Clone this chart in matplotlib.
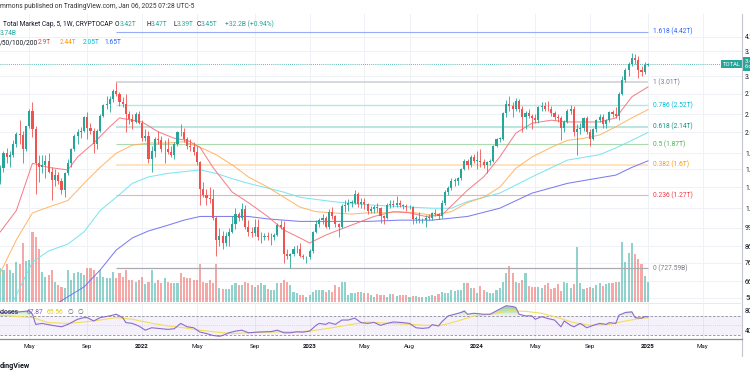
import numpy as np
import matplotlib
matplotlib.use("Agg")
import matplotlib.pyplot as plt
import matplotlib.dates as mdates
import matplotlib.transforms as mtrans
from matplotlib.ticker import NullLocator
from matplotlib.lines import Line2D

plt.rcParams['font.family'] = ['Roboto', 'DejaVu Sans']

# ---------------- data (Total crypto market cap, weekly, in T) ----------------
first_week = "2021-02-22"
first_open = 1.72
closes = [1.42,1.56,1.75,1.70,1.72,1.88,2.02,2.01,1.80,2.15,
          2.42,2.10,1.62,1.58,1.60,1.65,1.52,1.43,1.48,1.42,
          1.32,1.50,1.62,1.80,2.00,2.05,2.08,2.30,2.12,2.07,
          1.88,2.08,2.32,2.52,2.55,2.65,2.82,2.75,2.58,2.55,
          2.35,2.27,2.22,2.35,2.20,1.97,2.00,1.67,1.78,1.95,
          1.93,1.80,1.80,1.77,1.72,1.87,2.06,2.05,1.95,1.85,
          1.84,1.76,1.63,1.33,1.27,1.24,1.23,1.07,0.90,0.93,
          0.88,0.93,0.96,1.02,1.10,1.07,1.14,1.00,0.96,0.95,
          1.00,0.92,0.92,0.93,0.92,0.92,0.94,1.01,1.00,0.81,
          0.80,0.81,0.84,0.84,0.80,0.79,0.79,0.83,0.96,1.02,
          1.05,1.07,1.00,1.12,1.08,1.02,1.00,1.17,1.18,1.20,
          1.20,1.28,1.19,1.21,1.19,1.13,1.14,1.16,1.15,1.08,
          1.07,1.18,1.19,1.18,1.20,1.18,1.17,1.16,1.16,1.06,
          1.06,1.05,1.05,1.07,1.07,1.11,1.10,1.08,1.20,1.30,
          1.34,1.42,1.42,1.45,1.55,1.65,1.60,1.70,1.65,1.65,
          1.63,1.60,1.63,1.65,1.85,1.95,1.95,2.38,2.55,2.50,
          2.45,2.60,2.45,2.30,2.38,2.33,2.28,2.26,2.48,2.50,
          2.46,2.45,2.38,2.30,2.28,2.12,2.22,2.42,2.45,2.05,
          2.10,2.12,2.28,2.05,1.95,2.10,2.25,2.30,2.18,2.25,
          2.40,2.35,2.32,2.75,3.05,3.30,3.45,3.62,3.55,3.30,
          3.25,3.42,3.45]
highs = [1.76,1.60,1.78,1.82,1.78,1.93,2.05,2.26,2.07,2.16,
         2.45,2.58,2.15,1.72,1.72,1.72,1.75,1.58,1.55,1.52,
         1.45,1.52,1.68,1.82,2.03,2.10,2.13,2.33,2.40,2.20,
         2.12,2.10,2.35,2.55,2.70,2.70,2.85,3.01,2.80,2.68,
         2.75,2.42,2.35,2.40,2.42,2.25,2.10,2.08,1.85,1.98,
         2.08,2.00,1.93,1.97,1.85,1.90,2.08,2.18,2.12,1.98,
         1.95,1.90,1.85,1.65,1.40,1.33,1.35,1.33,1.08,0.99,
         0.97,0.96,0.99,1.08,1.15,1.12,1.20,1.18,1.05,1.00,
         1.06,1.06,0.96,0.95,0.96,0.95,0.95,1.03,1.05,1.04,
         0.84,0.82,0.86,0.87,0.88,0.81,0.80,0.84,0.97,1.05,
         1.07,1.10,1.08,1.14,1.16,1.09,1.03,1.19,1.22,1.23,
         1.22,1.32,1.30,1.24,1.24,1.20,1.17,1.18,1.20,1.16,
         1.09,1.20,1.22,1.22,1.26,1.22,1.19,1.19,1.18,1.17,
         1.08,1.12,1.07,1.09,1.10,1.12,1.14,1.11,1.22,1.32,
         1.36,1.45,1.45,1.46,1.56,1.68,1.67,1.72,1.74,1.78,
         1.80,1.68,1.65,1.68,1.86,1.97,1.98,2.40,2.62,2.70,
         2.58,2.66,2.64,2.50,2.42,2.45,2.36,2.36,2.50,2.58,
         2.58,2.60,2.50,2.42,2.36,2.32,2.25,2.45,2.52,2.50,
         2.18,2.20,2.30,2.32,2.10,2.12,2.27,2.35,2.35,2.27,
         2.42,2.43,2.48,2.80,3.15,3.35,3.50,3.76,3.72,3.68,
         3.40,3.50,3.47]
lows = [1.33,1.38,1.52,1.62,1.58,1.70,1.84,1.88,1.62,1.78,
        2.12,1.98,1.28,1.40,1.50,1.45,1.50,1.22,1.36,1.38,
        1.28,1.25,1.48,1.58,1.78,1.88,1.97,2.05,1.95,2.03,
        1.75,1.80,2.05,2.30,2.45,2.40,2.58,2.70,2.50,2.48,
        2.05,2.18,2.10,2.20,2.18,1.92,1.92,1.62,1.52,1.70,
        1.87,1.76,1.62,1.74,1.70,1.68,1.85,2.00,1.90,1.80,
        1.78,1.72,1.60,1.18,1.25,1.18,1.20,1.05,0.80,0.86,
        0.84,0.86,0.86,0.95,0.98,1.04,1.05,0.98,0.93,0.92,
        0.93,0.90,0.88,0.90,0.90,0.87,0.90,0.93,0.98,0.76,
        0.78,0.728,0.80,0.82,0.79,0.78,0.76,0.78,0.82,0.95,
        1.00,1.02,0.99,0.98,1.06,1.00,0.92,0.99,1.12,1.13,
        1.16,1.19,1.16,1.15,1.14,1.10,1.11,1.11,1.12,1.03,
        1.02,1.06,1.15,1.16,1.16,1.16,1.14,1.13,1.14,1.02,
        1.03,1.03,1.03,1.00,1.05,1.05,1.08,1.06,1.07,1.18,
        1.27,1.32,1.36,1.37,1.43,1.54,1.55,1.58,1.62,1.55,
        1.58,1.56,1.50,1.60,1.63,1.84,1.90,1.94,2.30,2.42,
        2.30,2.42,2.40,2.05,2.10,2.28,2.10,2.20,2.20,2.42,
        2.42,2.42,2.32,2.25,2.22,1.93,2.05,2.20,2.35,2.00,
        1.72,2.03,2.08,2.03,1.85,1.93,2.05,2.22,2.12,2.12,
        2.22,2.30,2.28,2.25,2.72,3.00,3.15,3.40,3.45,3.10,
        3.15,3.20,3.39]
volumes = [5.6,6.3,6.0,7.2,6.0,5.4,7.5,7.2,11.0,7.7,
           7.9,13.1,12.2,10.0,5.7,4.7,5.0,6.0,3.8,3.2,
           2.9,2.6,6.0,4.1,5.4,5.7,5.4,5.0,6.3,6.3,
           6.0,4.7,6.0,4.7,4.4,4.4,5.7,4.4,5.4,4.7,
           6.0,4.1,4.1,3.8,4.1,4.7,3.4,3.8,6.0,3.5,
           4.1,3.5,4.4,3.8,3.5,3.5,3.5,5.4,4.7,4.4,
           4.4,4.1,4.1,7.2,3.8,3.5,4.1,3.5,7.2,2.6,
           2.4,2.4,2.4,3.2,3.5,3.2,3.2,3.8,3.5,3.2,
           2.9,3.2,3.5,3.2,2.4,2.2,2.2,3.5,3.5,4.2,
           3.8,3.2,1.9,1.6,1.3,1.3,1.0,1.3,1.9,2.2,
           2.2,2.2,1.9,2.2,1.9,3.2,2.8,3.8,3.8,1.3,
           1.6,1.6,1.9,1.9,1.6,1.6,1.3,1.0,1.5,1.3,
           1.3,1.0,1.5,1.5,1.1,1.3,1.4,1.3,1.0,1.1,
           1.1,1.0,1.0,1.0,1.1,1.4,1.1,1.5,1.9,1.6,
           1.7,2.2,2.1,2.2,2.2,3.6,3.5,2.7,2.7,1.6,
           3.0,2.2,1.9,1.7,1.7,2.2,2.6,3.7,5.5,6.7,
           5.5,3.8,3.5,4.1,5.5,3.0,2.9,2.9,2.9,2.7,
           3.2,3.5,2.4,2.7,3.4,2.1,3.8,3.6,2.7,3.4,
           10.3,3.5,2.4,2.6,2.9,2.7,3.2,3.5,3.0,3.4,
           3.6,3.5,3.8,3.8,11.3,7.4,9.2,11.0,9.0,8.0,
           7.2,4.9,3.74]

# moving averages (bar index, value in T)
ma20_idx = [1,6,11,16,22,25,30,35,38,42,45,50,55,59,63,67,73,78,84,89,94,97,102,106,112,117,123,128,133,138,146,151,156,161,166,172,177,182,187,192,197,202]
ma20_val = [0.96,1.13,1.62,1.57,1.54,1.70,1.89,2.14,2.29,2.25,2.22,2.06,1.96,1.93,1.83,1.57,1.30,1.20,1.08,0.974,0.917,0.882,0.937,0.974,1.03,1.08,1.12,1.11,1.08,1.09,1.32,1.46,1.70,2.04,2.20,2.25,2.22,2.22,2.22,2.29,2.69,2.90]
ma50_idx = [1,6,11,16,22,27,32,37,42,47,53,58,63,68,73,78,84,94,99,104,110,115,120,125,130,135,141,146,151,156,161,166,172,177,182,187,192,197,202]
ma50_val = [0.702,0.903,1.11,1.16,1.22,1.39,1.57,1.75,1.86,1.89,1.89,1.91,1.83,1.73,1.60,1.46,1.35,1.16,1.12,1.11,1.10,1.11,1.11,1.12,1.11,1.09,1.12,1.20,1.25,1.35,1.56,1.70,1.83,1.93,1.96,2.01,2.14,2.29,2.44]
ma100_idx = [1,5,11,16,22,27,32,37,42,47,53,58,63,68,73,78,84,89,94,104,115,125,135,141,146,156,166,177,187,192,197,202]
ma100_val = [0.52,0.565,0.763,0.83,0.875,0.96,1.13,1.25,1.39,1.46,1.50,1.52,1.54,1.50,1.44,1.39,1.34,1.30,1.25,1.21,1.18,1.165,1.15,1.15,1.21,1.29,1.46,1.66,1.73,1.82,1.93,2.05]
ma200_idx = [14,19,27,32,37,42,47,53,58,63,68,73,78,84,94,104,115,125,135,146,156,166,177,187,192,197,202]
ma200_val = [0.50,0.56,0.631,0.718,0.836,0.917,0.967,1.01,1.05,1.08,1.08,1.08,1.08,1.06,1.04,1.04,1.04,1.05,1.05,1.08,1.15,1.29,1.39,1.45,1.48,1.57,1.65]

# RSI (14) and its moving average
rsi_idx = [1,7,10,11,12,14,17,20,22,25,27,28,30,32,35,37,39,40,42,44,46,48,51,53,55,57,59,61,63,65,67,69,70,72,74,76,78,81,83,85,87,89,91,93,95,97,99,100,102,103,105,107,109,111,113,115,117,119,121,123,126,128,130,132,134,135,137,138,140,142,144,145,146,148,151,153,156,158,160,161,162,164,166,167,169,171,173,175,176,178,179,181,183,185,187,189,190,192,193,195,197,198,200,201,202]
rsi_val = [77,78,80,73,52,54,50,47,52,62.6,66,66,59,66,69.6,73,66,55.6,54,48.6,40,45,43,41.6,43,54,47,45,36,33,29,27.5,29,34.6,38,40,34.6,36,36.6,37,40,34.6,34.6,36.6,36,38,50,54,52,55.6,52,61,61,65,55.6,54,56,50,54,57,55.6,54,45,43.7,45,51.4,48.6,57,69.6,73,76.7,80,73,75,73,73,83.7,90.6,89,87,73,69.6,69.6,62.6,68,64,61,47,59,50,47,54,45,50,54,52,55.6,54,71,76.7,78,66,64.7,68,67.87]
rsi_ma_idx = [1,11,16,22,27,32,37,42,47,53,58,63,68,73,78,84,89,94,99,104,110,115,122,128,133,138,143,148,153,159,164,169,174,179,184,190,195,200,202]
rsi_ma_val = [71,66,55.6,54,57,61,66,62.6,55.6,48.6,45,40,36,33,34.6,36,36.6,36.6,40,45,52,57,54,52,50,50,59,69.6,73,80,79,75,66,55.6,50,52,59,64.7,65.56]

# Fibonacci retracement (anchored at the Nov-2021 high)
fib_anchor_bar = 37
fib_levels = ["1.618", "1", "0.786", "0.618", "0.5", "0.382", "0.236", "0"]
fib_values = [4.42, 3.01, 2.52, 2.14, 1.87, 1.60, 1.27, 0.72759]
fib_value_text = ["4.42T", "3.01T", "2.52T", "2.14T", "1.87T", "1.6T", "1.27T", "727.59B"]

price_ticks = [4.25, 3.8, 3.15, 2.75, 2.35, 2.05, 1.75, 1.55, 1.35, 1.15, 0.99, 0.86, 0.76, 0.66, 0.58]
price_tick_labels = ["4.25T", "3.80T", "3.15T", "2.75T", "2.35T", "2.05T", "1.75T", "1.55T",
                     "1.35T", "1.15T", "990.00B", "860.00B", "760.00B", "660.00B", "580.00B"]
x_tick_dates = ['2021-05-03', '2021-09-06', '2022-01-03', '2022-05-02', '2022-09-05', '2023-01-02',
                '2023-05-01', '2023-08-07', '2024-01-01', '2024-05-06', '2024-09-02', '2025-01-06', '2025-05-05']
x_tick_labels = ['May', 'Sep', '2022', 'May', 'Sep', '2023', 'May', 'Aug', '2024', 'May', 'Sep', '2025', 'May']
last_price = 3.45

# ---------------- styling ----------------
UP, DN = '#26a69a', '#ef5350'
GRID = '#eef1f6'
TXT = '#131722'
FS = 4.8
W, H = 750.0, 375.0


def fx(px):
    return px / W


def fy(py):
    return 1.0 - py / H


weeks = np.datetime64(first_week) + np.arange(len(closes)) * np.timedelta64(7, 'D')
x = mdates.date2num(weeks)
c = np.array(closes)
o = np.r_[first_open, c[:-1]]
hi = np.array(highs)
lo = np.array(lows)
up = c >= o
col = np.where(up, UP, DN)

fig = plt.figure(figsize=(7.5, 3.75), dpi=100)
fig.patch.set_facecolor('white')
main_rect = [0, fy(302), 742 / W, (302 - 14) / H]
rsi_rect = [0, fy(339), 742 / W, (339 - 303) / H]
ax_vol = fig.add_axes(main_rect)
ax = fig.add_axes(main_rect, sharex=ax_vol)
ax_rsi = fig.add_axes(rsi_rect, sharex=ax_vol)

xl = (mdates.date2num(np.datetime64('2021-02-28T11:16')), mdates.date2num(np.datetime64('2025-07-29T05:00')))
ax_vol.set_xlim(*xl)

# volume pane (behind price)
ax_vol.set_axis_off()
ax_vol.set_ylim(0, 53.9)
ax_vol.bar(x, volumes, width=4.6, color=col, alpha=0.5, linewidth=0, zorder=2)
xt = mdates.date2num(np.array(x_tick_dates, dtype='datetime64[D]'))
for t in xt:
    ax_vol.axvline(t, color=GRID, lw=0.7, zorder=0)

# price pane
ax.set_yscale('log')
ax.set_ylim(0.5625, 5.057)
ax.patch.set_visible(False)
for s in ax.spines.values():
    s.set_visible(False)
for t in price_ticks:
    ax_vol.add_line(Line2D([0, 1], [t, t], transform=mtrans.blended_transform_factory(ax_vol.transAxes, ax.transData),
                           color=GRID, lw=0.7, zorder=0))
ax.yaxis.tick_right()
ax.set_yticks(price_ticks)
ax.set_yticklabels(price_tick_labels)
ax.yaxis.set_minor_locator(NullLocator())
ax.tick_params(axis='y', length=0, pad=2.2, labelsize=FS, labelcolor=TXT)
ax.tick_params(axis='x', which='both', length=0, labelbottom=False)

# moving averages
for idx, val, cc in [(ma200_idx, ma200_val, '#6f6ff2'), (ma100_idx, ma100_val, '#6fe3ef'),
                     (ma50_idx, ma50_val, '#ffb25e'), (ma20_idx, ma20_val, '#f4747e')]:
    ax.plot(x[np.array(idx)], val, color=cc, lw=0.75, alpha=0.9, zorder=2)

# fib retracement
fib_line_colors = ['#97adf8', '#d3d5d9', '#b0e6ee', '#bde5df', '#addaae', '#ffe2bf', '#f6acb1', '#a9abb1']
fib_line_widths = [0.8, 1.3, 1.0, 1.5, 0.8, 1.4, 0.8, 0.9]
fib_text_colors = ['#2962ff', '#787b86', '#00bcd4', '#089981', '#4caf50', '#ff9800', '#f23645', '#787b86']
lab_tr = mtrans.offset_copy(ax.transData, fig=fig, x=5, y=0, units='dots')
for lv, v, vt, lc, lw, tc in zip(fib_levels, fib_values, fib_value_text, fib_line_colors, fib_line_widths,
                                 fib_text_colors):
    ax.hlines(v, x[fib_anchor_bar], x[-1], color=lc, lw=lw, zorder=1.5)
    ax.text(x[-1], v, f"{lv} ({vt})", transform=lab_tr, color=tc, fontsize=FS, va='center', ha='left')

# candles
ax.vlines(x, lo, hi, colors=col, lw=0.6, zorder=3)
body_h = np.maximum(np.abs(c - o), 0.004 * np.maximum(c, o))
ax.bar(x, body_h, bottom=np.minimum(o, c), width=4.6, color=col, linewidth=0, zorder=4)

# last price line and labels
ax.axhline(last_price, color=UP, lw=0.6, ls=(0, (1, 1.5)), zorder=2)
bt = mtrans.blended_transform_factory(ax.transAxes, ax.transData)
ax.text(0.998, last_price, "TOTAL", transform=bt, ha='right', va='center', fontsize=4.2, color='white',
        bbox=dict(boxstyle='square,pad=0.25', fc=UP, ec='none'), zorder=6, clip_on=False)
ax.text(1.004, last_price, "3.45T\n6d 16h", transform=bt, ha='left', va='center', fontsize=4.3, color='white',
        linespacing=1.0, bbox=dict(boxstyle='square,pad=0.3', fc=UP, ec='none'), zorder=6, clip_on=False)

# RSI pane
ax_rsi.set_ylim(21.7, 96.3)
ax_rsi.patch.set_visible(False)
for s in ax_rsi.spines.values():
    s.set_visible(False)
for t in xt:
    ax_rsi.axvline(t, color=GRID, lw=0.7, zorder=0)
ax_rsi.axhspan(30, 70, color='#7e57c2', alpha=0.08, lw=0, zorder=0.5)
ax_rsi.axhline(70, color='#8a8d96', lw=0.6, ls=(0, (3, 2)), zorder=1)
ax_rsi.axhline(30, color='#8a8d96', lw=0.6, ls=(0, (3, 2)), zorder=1)
ax_rsi.axhline(50, color='#8a8d96', lw=0.5, ls=(0, (1, 2)), alpha=0.5, zorder=1)
xr = x[np.array(rsi_idx)]
rv = np.array(rsi_val)
for t in (70, 75, 80, 85):
    ax_rsi.fill_between(xr, t, rv, where=rv > t, interpolate=True, color='#4caf50', alpha=0.16, lw=0, zorder=1.5)
ax_rsi.fill_between(xr, 30, rv, where=rv < 30, interpolate=True, color='#f23645', alpha=0.2, lw=0, zorder=1.5)
ax_rsi.plot(x[np.array(rsi_ma_idx)], rsi_ma_val, color='#f5dd5a', lw=0.8, zorder=2)
ax_rsi.plot(xr, rv, color='#8c6ad0', lw=0.8, zorder=3)
ax_rsi.yaxis.tick_right()
ax_rsi.set_yticks([80, 40])
ax_rsi.set_yticklabels(["80.00", "40.00"])
ax_rsi.tick_params(axis='y', length=0, pad=2.2, labelsize=FS, labelcolor=TXT)
ax_rsi.set_xticks(xt)
ax_rsi.set_xticklabels(x_tick_labels)
ax_rsi.tick_params(axis='x', length=0, pad=3.8, labelsize=4.4, labelcolor=TXT)
for lab in ax_rsi.get_xticklabels():
    if lab.get_text().isdigit():
        lab.set_fontweight('bold')
ax_vol.tick_params(labelbottom=False)

# frame lines
fig.add_artist(Line2D([fx(742), fx(742)], [fy(356), fy(14)], color='#c3c6cd', lw=0.8))
fig.add_artist(Line2D([0, fx(742)], [fy(339.3), fy(339.3)], color='#8a8d96', lw=0.9))
fig.add_artist(Line2D([0, fx(742)], [fy(302.6), fy(302.6)], color='#e3e6ec', lw=0.6))


def ftext(px, py, s, color=TXT, size=FS, **kw):
    fig.text(fx(px), fy(py), s, color=color, fontsize=size, va='center', ha='left', **kw)


ftext(0, 7, "mmons published on TradingView.com, Jan 06, 2025 07:28 UTC-5", color='#333333')
ftext(3, 24, "Total Market Cap, 5, 1W, CRYPTOCAP")
for px, s, cc in [(115, "O", TXT), (119.5, "3.42T", UP), (146.5, "H", TXT), (151, "3.47T", UP),
                  (173, "L", TXT), (176.5, "3.39T", UP), (197, "C", TXT), (201, "3.45T", UP),
                  (225, "+32.2B (+0.94%)", UP)]:
    ftext(px, 24, s, color=cc)
ftext(0, 33.5, "3.74B", color=UP)
ftext(0, 43, "/50/100/200", color=TXT)
ftext(38, 43, "2.9T", color='#f23645')
ftext(60, 43, "2.44T", color='#ff9800')
ftext(83, 43, "2.05T", color='#00bcd4')
ftext(104.5, 43, "1.65T", color='#2962ff')
ftext(0, 312, "closes", color=TXT)
ftext(27, 312, "67.87", color='#7e57c2')
ftext(47, 312, "65.56", color='#e8c900')
ftext(67, 312, "\u2205", color='#555555')
ftext(78, 312, "\u2205", color='#555555')
ftext(0, 366, "dingView", color=TXT, size=5.2, fontweight='bold')

fig.savefig("out.png", dpi=100, facecolor='white')
